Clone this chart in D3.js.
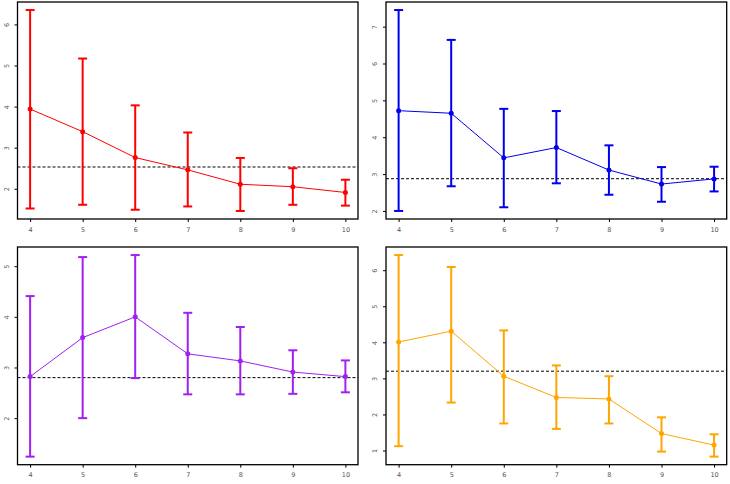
<!DOCTYPE html>
<html><head><meta charset="utf-8">
<script src="https://cdn.jsdelivr.net/npm/d3@7"></script>
<style>body{margin:0;background:#fff}svg{display:block}</style>
</head><body>
<svg id="c" width="730" height="484"></svg>
<script>
const xs = [4,5,6,7,8,9,10];
const redMean  = [3.94,3.39,2.76,2.46,2.11,2.05,1.91];
const redUpper = [6.35,5.17,4.03,3.37,2.75,2.50,2.22];
const redLower = [1.52,1.61,1.49,1.57,1.46,1.61,1.59];
const redRef = 2.53;
const blueMean  = [4.72,4.65,3.44,3.72,3.11,2.73,2.87];
const blueUpper = [7.45,6.64,4.77,4.71,3.78,3.19,3.20];
const blueLower = [2.00,2.67,2.10,2.75,2.44,2.25,2.53];
const blueRef = 2.875;
const purpleMean  = [2.82,3.59,4.00,3.27,3.13,2.91,2.82];
const purpleUpper = [4.41,5.18,5.22,4.08,3.80,3.34,3.14];
const purpleLower = [1.24,2.00,2.79,2.47,2.47,2.48,2.51];
const purpleRef = 2.80;
const orangeMean  = [4.01,4.31,3.06,2.47,2.43,1.47,1.15];
const orangeUpper = [6.42,6.09,4.33,3.36,3.06,1.92,1.45];
const orangeLower = [1.12,2.33,1.75,1.60,1.75,0.97,0.83];
const orangeRef = 3.20;
const xTicks = [4,5,6,7,8,9,10];
const redTicks = [2,3,4,5,6];
const blueTicks = [2,3,4,5,6,7];
const purpleTicks = [2,3,4,5];
const orangeTicks = [1,2,3,4,5,6];

const panels = [
  {x0:17.5, x1:358, y0:2, y1:219, mean:redMean, up:redUpper, lo:redLower, ref:redRef, col:"#ff0000", ticks:redTicks},
  {x0:386, x1:726.7, y0:2, y1:219, mean:blueMean, up:blueUpper, lo:blueLower, ref:blueRef, col:"#0000ee", ticks:blueTicks},
  {x0:17.5, x1:358, y0:247, y1:464.7, mean:purpleMean, up:purpleUpper, lo:purpleLower, ref:purpleRef, col:"#a020f0", ticks:purpleTicks},
  {x0:386, x1:726.7, y0:247, y1:464.7, mean:orangeMean, up:orangeUpper, lo:orangeLower, ref:orangeRef, col:"#ffa500", ticks:orangeTicks}
];
const svg = d3.select("#c");
panels.forEach(p => {
  const xmin = d3.min(xs), xmax = d3.max(xs), xr = xmax - xmin;
  const x = d3.scaleLinear().domain([xmin - 0.04*xr, xmax + 0.04*xr]).range([p.x0, p.x1]);
  const ymin = d3.min(p.lo), ymax = d3.max(p.up), yr = ymax - ymin;
  const y = d3.scaleLinear().domain([ymin - 0.04*yr, ymax + 0.04*yr]).range([p.y1, p.y0]);
  const g = svg.append("g");
  g.append("line").attr("x1", p.x0).attr("x2", p.x1).attr("y1", y(p.ref)).attr("y2", y(p.ref))
    .attr("stroke", "#000").attr("stroke-width", 1).attr("stroke-dasharray", "3,2");
  const bars = g.selectAll("g.eb").data(xs).join("g");
  bars.append("line").attr("x1", d => x(d)).attr("x2", d => x(d))
    .attr("y1", (d,i) => y(p.up[i])).attr("y2", (d,i) => y(p.lo[i]))
    .attr("stroke", p.col).attr("stroke-width", 2);
  bars.append("line").attr("x1", d => x(d)-4.5).attr("x2", d => x(d)+4.5)
    .attr("y1", (d,i) => y(p.up[i])).attr("y2", (d,i) => y(p.up[i]))
    .attr("stroke", p.col).attr("stroke-width", 2);
  bars.append("line").attr("x1", d => x(d)-4.5).attr("x2", d => x(d)+4.5)
    .attr("y1", (d,i) => y(p.lo[i])).attr("y2", (d,i) => y(p.lo[i]))
    .attr("stroke", p.col).attr("stroke-width", 2);
  g.append("path").datum(xs).attr("fill", "none").attr("stroke", p.col).attr("stroke-width", 1)
    .attr("d", d3.line().x(d => x(d)).y((d,i) => y(p.mean[i])));
  g.selectAll("circle").data(xs).join("circle").attr("cx", d => x(d)).attr("cy", (d,i) => y(p.mean[i]))
    .attr("r", 2.5).attr("fill", p.col);
  g.append("rect").attr("x", p.x0).attr("y", p.y0).attr("width", p.x1 - p.x0).attr("height", p.y1 - p.y0)
    .attr("fill", "none").attr("stroke", "#000").attr("stroke-width", 1.3);
  const xa = g.append("g").attr("transform", `translate(0,${p.y1})`)
    .call(d3.axisBottom(x).tickValues(xTicks).tickSize(3).tickPadding(5).tickFormat(d3.format("d")));
  xa.select(".domain").remove();
  xa.selectAll("line").attr("stroke", "#000");
  xa.selectAll("text").attr("font-family", "DejaVu Sans, sans-serif").attr("font-size", 6.5).attr("fill", "#555");
  const ya = g.append("g").attr("transform", `translate(${p.x0},0)`)
    .call(d3.axisLeft(y).tickValues(p.ticks).tickSize(3).tickFormat(d3.format("d")));
  ya.select(".domain").remove();
  ya.selectAll("line").attr("stroke", "#000");
  ya.selectAll("text").attr("font-family", "DejaVu Sans, sans-serif").attr("font-size", 6.5).attr("fill", "#555")
    .attr("x", null).attr("dy", null).attr("text-anchor", "middle")
    .attr("transform", "translate(-9,0) rotate(-90)");
});
</script>
</body></html>
